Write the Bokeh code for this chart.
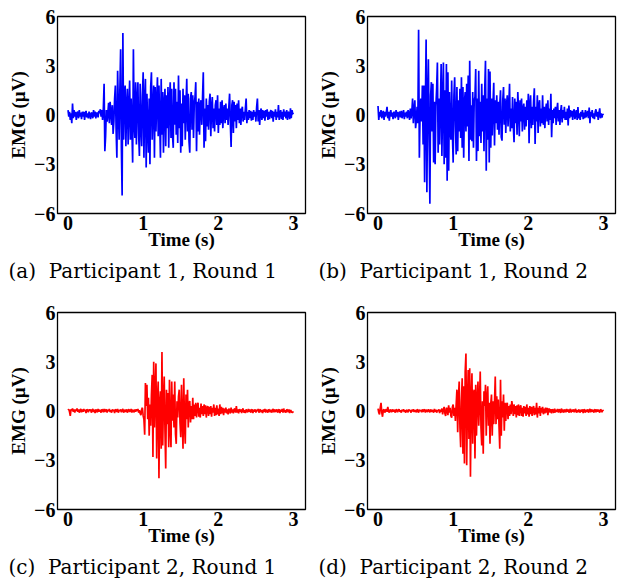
from bokeh.plotting import figure
from bokeh.models import Range1d, FixedTicker, Title
from bokeh.layouts import column, row
from bokeh.embed import file_html
from bokeh.resources import INLINE

# sampling interval of the EMG traces (s)
DT = 0.01

# Participant 1, Round 1 (µV)
emg_p1_r1 = [
    0.3, -0.1, 0.2, -0.3, 0.1, -0.5, 0.7, -0.2, 0.3, -0.1,
    0.2, -0.3, 0.1, 0.2, -0.2, 0.3, -0.1, 0.15, -0.25, 0.2,
    -0.1, 0.2, -0.3, 0.1, 0.25, -0.15, 0.1, -0.2, 0.2, 0.0,
    -0.25, 0.15, 0.1, -0.2, 0.3, -0.1, 0.2, -0.2, 0.1, 0.15,
    -0.15, 0.25, 0.1, 0.35, -0.1, 0.3, -0.3, 0.4, 1.9, -2.2,
    -1.3, 0.3, -0.4, 0.1, 0.75, -0.5, 0.8, 0.2, -0.6, 0.6,
    -1.15, -0.4, 1.0, 1.8, -0.9, -2.6, 2.7, 0.5, -1.5, 1.5,
    4.0, -2.0, -4.9, 5.0, -1.5, 1.2, 1.8, -1.9, 0.6, 1.6,
    -1.8, 0.4, 2.1, -1.5, 1.0, -0.8, -2.9, 4.0, -0.5, -1.4,
    2.0, -1.8, 0.9, 2.0, -1.2, -2.5, 1.9, -0.6, -1.9, 1.2,
    2.6, -2.6, 0.8, 2.2, -3.2, 1.3, -0.7, -2.3, 1.0, -3.0,
    1.7, 2.6, -1.5, 0.5, 1.8, -2.6, 1.7, -1.0, 0.8, 2.3,
    -1.3, 1.8, -0.4, -2.6, 2.2, -1.2, 1.4, -2.3, 0.7, 1.6,
    -1.9, 1.2, -0.8, 1.7, -2.0, 0.9, 2.0, -1.4, 1.6, -1.2,
    -2.0, 2.0, -0.6, 1.6, -1.2, 0.8, -1.7, 2.4, -0.8, 1.5,
    -2.3, 0.7, -1.9, 1.6, -0.5, 1.2, -1.5, 0.6, 2.2, -1.0,
    1.3, -1.6, -2.3, 1.0, 1.4, -0.9, 1.2, -1.4, 0.7, 1.1,
    2.0, -2.2, 0.8, -1.0, 1.0, -1.2, 0.6, 0.9, -0.6, 1.1,
    2.6, -2.0, 0.4, -1.6, 1.0, -0.7, 0.6, -0.9, 0.8, 1.3,
    -1.3, 0.5, 1.1, -0.8, 0.4, -1.0, 0.6, 0.9, -0.6, 1.2,
    -1.1, 0.4, -0.6, 0.8, -0.5, 0.9, -0.8, 0.3, 0.6, -0.5,
    0.7, -0.3, 0.4, -0.6, 0.5, 1.3, -0.5, -1.95, 0.6, 0.9,
    -1.1, 0.8, -0.4, 0.6, -0.8, 0.7, -0.3, 0.9, -0.5, 0.4,
    -0.6, 0.3, 0.5, -0.4, 0.2, -0.3, 0.4, 1.0, -0.5, 0.2,
    -0.3, 0.3, -0.2, 0.25, -0.35, 0.2, -0.3, 0.3, -0.1, 0.2,
    -0.4, 0.5, 1.0, -0.4, 0.3, -0.6, 0.2, 0.4, -0.3, 0.3,
    -0.2, 0.25, -0.35, 0.3, -0.1, 0.35, -0.3, 0.2, -0.25, 0.15,
    0.3, -0.2, 0.25, -0.4, 0.2, -0.1, 0.35, -0.3, 0.2, -0.15,
    0.6, -0.3, 0.1, 0.3, -0.25, 0.2, -0.3, 0.35, -0.1, 0.2,
    -0.2, 0.3, -0.3, 0.2, 0.1, -0.25, 0.4, -0.2, 0.3, 0.1, 0.05,
]

# Participant 1, Round 2 (µV)
emg_p1_r2 = [
    0.55, -0.3, 0.2, -0.1, 0.3, -0.2, 0.1, 0.25, -0.3, 0.2,
    -0.1, 0.15, 0.5, -0.2, 0.2, -0.35, 0.1, 0.3, -0.1, 0.15,
    -0.25, 0.2, 0.1, -0.2, 0.3, -0.1, 0.2, -0.3, 0.1, 0.2,
    -0.15, 0.25, -0.2, 0.1, 0.3, -0.25, 0.15, -0.1, 0.2, -0.2,
    0.3, 0.1, -0.3, 0.4, -0.2, 0.2, 1.0, -0.5, 0.3, 0.9,
    -0.8, -0.3, 0.5, -0.5, 5.2, -2.6, 0.2, 1.0, -0.4, 1.8,
    -1.8, 1.8, -4.1, 0.6, 4.6, -4.7, 0.9, 3.4, -1.5, -5.4,
    1.2, 2.0, -1.0, 1.9, -2.9, 0.8, -3.0, 0.5, 1.6, 3.2,
    -2.3, 1.0, -1.8, 0.6, 3.1, -2.5, 0.9, 3.2, -3.0, 1.5,
    -2.6, 3.1, -4.0, 2.6, -3.4, 1.4, -0.8, -1.5, 2.1, -1.2,
    -2.9, 1.2, 2.3, -0.6, -2.4, 1.7, -2.2, 0.9, -1.0, 1.6,
    -1.4, 2.3, -2.0, 1.7, -2.6, 0.8, 1.4, -1.0, 1.9, -0.7,
    2.4, -2.8, 3.3, -1.5, 0.6, -1.6, 1.4, -2.0, 0.9, 1.1,
    2.8, -2.8, 1.0, -2.2, 2.7, -1.3, 0.8, -1.7, 1.9, -1.0,
    1.2, -2.2, 1.5, 3.3, -3.4, 1.0, -1.5, 2.8, -2.9, 2.65,
    -2.0, 1.0, -1.25, 0.7, 1.96, -1.86, 0.9, -0.5, 1.2, -0.9,
    0.8, -1.2, 0.6, 1.5, -1.35, -1.56, 0.9, 1.7, -0.6, 1.0,
    -1.1, 0.6, 1.2, -0.7, 0.5, 1.9, -1.0, 0.4, -0.8, 1.1,
    -0.6, -1.66, 1.0, -0.5, 0.8, -1.2, 1.4, 0.3, -1.3, 0.9,
    -0.4, 1.0, -1.0, 0.4, 0.7, -0.9, 0.5, -0.7, 0.9, -0.3,
    1.3, -1.72, 0.6, 1.2, -0.8, 0.5, -0.6, 0.8, 1.63, -1.76,
    0.5, -0.4, 1.2, -1.1, 0.6, 0.9, -0.7, 0.4, -0.5, 1.2,
    -0.6, 0.5, -0.8, 0.3, 0.7, -0.4, 0.9, -0.6, 0.4, -0.3,
    1.3, -1.35, 0.3, -0.5, 0.4, -0.2, 0.5, -0.6, 0.3, 0.74,
    -0.4, 0.3, -0.6, 0.2, 0.6, -0.45, 0.3, -0.2, 0.5, -0.3,
    0.2, -0.3, 0.4, -0.64, 0.58, -0.2, 0.3, -0.1, 0.25, -0.3,
    0.2, 0.35, -0.25, 0.1, 0.3, -0.3, 0.48, -0.2, 0.1, -0.3,
    0.2, -0.1, 0.3, -0.25, 0.15, -0.2, 0.3, -0.15, 0.1, 0.25,
    -0.2, 0.45, -0.5, 0.2, -0.1, 0.3, -0.2, 0.1, -0.25, 0.2,
    0.35, -0.1, 0.2, -0.3, 0.1, 0.4, -0.2, 0.1, -0.15, 0.05, 0.0,
]

# Participant 2, Round 1 (µV)
emg_p2_r1 = [
    0.05, 0.1, -0.05, -0.3, 0.1, 0.05, 0.15, -0.05, 0.1, -0.1,
    0.1, 0.0, 0.15, -0.05, 0.1, -0.1, 0.05, 0.12, -0.08, 0.1,
    -0.05, 0.12, 0.0, 0.08, -0.12, 0.1, 0.05, -0.08, 0.1, 0.0,
    0.1, -0.1, 0.05, 0.12, -0.06, 0.08, -0.12, 0.1, 0.02, -0.08,
    0.12, -0.05, 0.08, 0.0, -0.1, 0.1, 0.05, -0.08, 0.12, -0.05,
    0.05, 0.1, -0.1, 0.08, 0.0, 0.12, -0.06, 0.05, -0.1, 0.1,
    0.0, 0.08, -0.12, 0.1, 0.05, -0.05, 0.12, -0.1, 0.06, 0.0,
    0.1, -0.08, 0.05, 0.12, -0.1, 0.02, 0.08, -0.06, 0.1, -0.1,
    0.05, 0.1, -0.05, 0.0, 0.12, -0.1, 0.08, 0.02, -0.08, 0.1,
    -0.05, 0.1, 0.0, 0.12, -0.1, 0.05, -0.15, -0.25, 0.1, 0.2,
    -0.3, -0.5, -1.45, 1.7, 0.3, 1.6, -0.5, 0.8, -1.5, 0.4,
    -0.9, 1.0, 2.2, -2.8, 3.0, -1.0, 1.2, 2.9, -2.9, 0.8,
    1.8, -4.1, 0.5, 1.2, -2.3, 3.6, -2.1, 0.6, 2.1, -1.2,
    -3.5, 1.3, -0.8, 1.1, -2.2, 1.9, -1.0, -2.2, 1.8, -0.6,
    1.0, -1.0, 1.8, -1.4, -2.0, 0.6, -0.4, 0.9, 1.3, -0.7,
    -1.6, 1.6, -0.5, -2.3, 2.0, -0.8, -2.0, 1.0, -0.5, 1.3,
    -1.0, 0.5, 0.6, -0.7, 0.3, -0.5, 0.8, -0.5, 0.4, -0.3,
    0.5, -0.4, 0.3, 0.5, -0.35, 0.2, -0.4, 0.45, -0.2, 0.3,
    -0.3, 0.4, -0.2, 0.35, -0.4, 0.2, 0.3, -0.3, 0.25, -0.2,
    0.3, -0.35, 0.2, -0.1, 0.4, -0.3, 0.2, -0.25, 0.35, -0.2,
    0.15, -0.3, 0.4, -0.2, 0.25, -0.15, 0.2, -0.25, 0.15, -0.1,
    0.2, -0.15, 0.1, -0.2, 0.15, 0.05, -0.15, 0.2, -0.1, 0.1,
    -0.15, 0.1, 0.15, -0.1, 0.3, -0.1, 0.1, -0.15, 0.12, -0.05,
    0.1, -0.12, 0.08, 0.15, -0.1, 0.05, -0.12, 0.1, 0.0, -0.08,
    0.12, -0.05, 0.1, -0.1, 0.05, 0.1, -0.12, 0.08, -0.05, 0.1,
    -0.1, 0.08, 0.0, 0.12, -0.1, 0.05, 0.1, -0.08, 0.05, -0.12,
    0.1, -0.05, 0.12, -0.1, 0.08, 0.0, -0.1, 0.1, 0.05, -0.08,
    0.08, -0.1, 0.05, 0.12, -0.08, 0.1, -0.05, 0.0, 0.1, -0.1,
    0.05, 0.1, -0.12, 0.08, -0.05, 0.12, -0.1, 0.15, -0.08, 0.05,
    -0.1, 0.1, 0.05, -0.08, 0.1, -0.12, 0.05, 0.0, -0.1, -0.05, -0.1,
]

# Participant 2, Round 2 (µV)
emg_p2_r2 = [
    0.15, -0.1, -0.2, 0.2, 0.5, -0.1, -0.35, 0.05, 0.1, -0.1,
    0.05, 0.1, -0.05, 0.25, 0.0, -0.1, 0.08, 0.05, -0.08, 0.1,
    -0.05, 0.08, 0.0, -0.1, 0.1, 0.05, -0.08, 0.06, 0.1, -0.05,
    0.05, -0.1, 0.08, 0.0, 0.1, -0.06, 0.05, -0.1, 0.08, 0.02,
    -0.08, 0.1, 0.0, 0.06, -0.1, 0.08, -0.02, 0.1, -0.06, 0.05,
    0.0, -0.08, 0.1, 0.05, -0.1, 0.08, 0.0, 0.06, -0.08, 0.1,
    -0.05, 0.05, 0.1, -0.1, 0.08, 0.0, -0.06, 0.1, 0.02, -0.08,
    0.1, -0.05, 0.06, 0.0, -0.1, 0.12, -0.05, 0.08, -0.1, 0.05,
    0.0, 0.1, -0.12, 0.08, -0.05, 0.15, -0.2, 0.1, 0.25, -0.15,
    -0.3, 0.2, 0.1, -0.25, 0.35, -0.1, 0.2, -0.3, -0.4, 0.25,
    0.4, -0.3, 0.2, -0.6, 0.4, 1.3, -1.3, 0.8, 1.8, -1.0,
    -2.2, 0.6, 2.0, -2.6, 1.5, -3.2, 2.4, 3.5, -3.3, 0.5,
    2.5, -1.7, 2.6, -4.0, 0.8, 2.3, -2.0, 1.1, 1.3, -2.9,
    1.6, -1.5, 0.7, 1.8, -0.9, 0.5, 2.4, -1.0, -2.1, 0.6,
    -2.6, 1.2, 0.3, 1.6, -1.5, 0.8, 1.5, -0.9, 0.5, -2.0,
    0.4, 1.0, -1.5, 0.6, -0.8, 0.5, 2.1, -0.8, 0.9, -0.5,
    0.7, -0.9, -2.3, 1.9, -1.5, 0.6, -0.4, 1.0, -1.2, 0.5,
    -0.6, 0.4, 0.5, -0.5, 0.3, -0.3, 0.4, -0.2, 0.6, 0.3,
    -0.3, 0.4, -0.2, 0.3, -0.4, 0.35, -0.25, 0.4, -0.3, 0.2,
    0.35, -0.3, 0.2, -0.35, 0.3, -0.15, 0.25, -0.3, 0.4, -0.2,
    0.2, -0.35, 0.3, -0.2, 0.25, -0.3, 0.15, 0.3, -0.25, 0.2,
    -0.2, 0.5, -0.4, 0.2, -0.15, 0.3, -0.3, 0.2, -0.1, 0.25,
    -0.2, 0.15, -0.15, 0.2, -0.1, 0.2, -0.25, 0.1, 0.15, -0.1,
    0.12, -0.15, 0.1, 0.05, -0.12, 0.15, -0.1, 0.08, -0.05, 0.12,
    -0.1, 0.1, 0.05, -0.12, 0.15, -0.08, 0.1, -0.1, 0.05, 0.08,
    -0.08, 0.12, -0.05, 0.1, -0.1, 0.05, 0.12, -0.1, 0.08, -0.05,
    0.1, -0.08, 0.05, 0.12, -0.1, 0.05, -0.08, 0.1, 0.0, -0.1,
    0.08, -0.05, 0.1, -0.12, 0.1, 0.05, -0.1, 0.08, -0.05, 0.1,
    -0.1, 0.05, 0.12, -0.08, 0.1, -0.05, 0.08, -0.1, 0.05, 0.1,
    -0.08, 0.1, -0.05, 0.08, 0.0, -0.1, 0.1, 0.05, -0.08, 0.05, 0.0,
]

x_ticks = [0, 1, 2, 3]
y_ticks = [-6, -3, 0, 3, 6]
y_tick_labels = {-6: "\u22126", -3: "\u22123", 0: "0", 3: "3", 6: "6"}
captions = [
    "(a)\u00a0\u00a0Participant 1, Round 1",
    "(b)\u00a0\u00a0Participant 1, Round 2",
    "(c)\u00a0\u00a0Participant 2, Round 1",
    "(d)\u00a0\u00a0Participant 2, Round 2",
]
BLUE = "#0000ff"
RED = "#ff0000"
AXIS_FONT = "Liberation Serif"
CAPTION_FONT = "DejaVu Serif"


def make_panel(values, color, caption, left, right, top, bottom, cap_offset):
    t = [round(i * DT, 2) for i in range(len(values))]
    p = figure(frame_width=248, frame_height=197,
               min_border_left=left, min_border_right=right,
               min_border_top=top, min_border_bottom=bottom,
               x_range=Range1d(-0.14, 3.16), y_range=Range1d(-6, 6),
               output_backend="svg", toolbar_location=None)
    p.line(t, values, line_color=color, line_width=1.7)
    p.grid.visible = False
    p.outline_line_color = "black"
    p.outline_line_width = 1.3
    p.outline_line_alpha = 1.0
    p.background_fill_color = "white"
    p.border_fill_color = "white"
    p.xaxis.ticker = FixedTicker(ticks=x_ticks)
    p.yaxis.ticker = FixedTicker(ticks=y_ticks)
    p.yaxis.major_label_overrides = y_tick_labels
    for ax in (p.xaxis[0], p.yaxis[0]):
        ax.axis_line_color = None
        ax.major_tick_in = 0
        ax.major_tick_out = 0
        ax.minor_tick_in = 0
        ax.minor_tick_out = 0
        ax.major_label_text_font = AXIS_FONT
        ax.major_label_text_font_style = "bold"
        ax.major_label_text_font_size = "20px"
        ax.major_label_text_color = "black"
        ax.axis_label_text_font = AXIS_FONT
        ax.axis_label_text_font_style = "bold"
        ax.axis_label_text_font_size = "19px"
        ax.axis_label_text_color = "black"
        ax.major_label_standoff = 2
    p.xaxis.axis_label_standoff = -4
    p.yaxis.axis_label_standoff = 2
    p.xaxis.axis_label = "Time (s)"
    p.yaxis.axis_label = "EMG (\u00b5V)"
    p.add_layout(Title(text=caption, align="left", offset=cap_offset,
                       text_font=CAPTION_FONT, text_font_size="20px",
                       text_font_style="normal", text_color="black",
                       standoff=8), "below")
    return p


p1 = make_panel(emg_p1_r1, BLUE, captions[0], 57, 5, 16, 87, -49)
p2 = make_panel(emg_p1_r2, BLUE, captions[1], 57, 5, 16, 87, -49)
p3 = make_panel(emg_p2_r1, RED, captions[2], 57, 5, 12, 72, -49)
p4 = make_panel(emg_p2_r2, RED, captions[3], 57, 5, 12, 72, -49)

layout = column(row(p1, p2), row(p3, p4))
open("out.html", "w").write(file_html(layout, INLINE))
